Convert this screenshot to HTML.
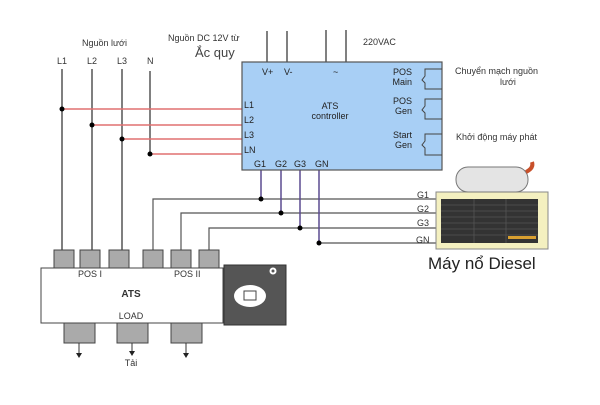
<!DOCTYPE html>
<html><head><meta charset="utf-8"><style>
html,body{margin:0;padding:0;background:#fff;}
svg text{font-family:"Liberation Sans","DejaVu Sans",sans-serif;}
</style></head><body>
<svg width="600" height="400" viewBox="0 0 600 400" xmlns="http://www.w3.org/2000/svg">
<rect width="600" height="400" fill="#fff"/>
<!-- mains lines -->
<g stroke="#555" stroke-width="1.5">
<line x1="62" y1="69" x2="62" y2="252"/>
<line x1="92" y1="69" x2="92" y2="252"/>
<line x1="122" y1="69" x2="122" y2="252"/>
<line x1="150" y1="71" x2="150" y2="154"/>
</g>
<g stroke="#e07070" stroke-width="1.5">
<line x1="62" y1="109" x2="242" y2="109"/>
<line x1="92" y1="125" x2="242" y2="125"/>
<line x1="122" y1="139" x2="242" y2="139"/>
<line x1="150" y1="154" x2="242" y2="154"/>
</g>
<g fill="#000"><circle cx="62" cy="109" r="2.5"/><circle cx="92" cy="125" r="2.5"/><circle cx="122" cy="139" r="2.5"/><circle cx="150" cy="154" r="2.5"/></g>
<!-- top supply lines -->
<g stroke="#555" stroke-width="1.5">
<line x1="267" y1="31" x2="267" y2="62"/><line x1="287" y1="31" x2="287" y2="62"/>
<line x1="326" y1="30" x2="326" y2="62"/><line x1="346" y1="30" x2="346" y2="62"/>
</g>
<!-- G lines -->
<g stroke="#555" stroke-width="1.2" fill="none">
<polyline points="153,252 153,199 438,199"/>
<polyline points="181,252 181,213 438,213"/>
<polyline points="209,252 209,228 438,228"/>
<line x1="319" y1="243" x2="438" y2="243"/>
</g>
<g stroke="#5a4a90" stroke-width="1.5">
<line x1="261" y1="170" x2="261" y2="199"/><line x1="281" y1="170" x2="281" y2="213"/>
<line x1="300" y1="170" x2="300" y2="228"/><line x1="319" y1="170" x2="319" y2="243"/>
</g>
<g fill="#000"><circle cx="261" cy="199" r="2.5"/><circle cx="281" cy="213" r="2.5"/><circle cx="300" cy="228" r="2.5"/><circle cx="319" cy="243" r="2.5"/></g>
<!-- controller -->
<rect x="242" y="62" width="200" height="108" fill="#a8cff5" stroke="#555" stroke-width="1.2"/>
<g font-size="9" fill="#222">
<text x="262" y="75">V+</text><text x="284" y="75">V-</text><text x="333" y="75">~</text>
<text x="244" y="108">L1</text><text x="244" y="123">L2</text><text x="244" y="138">L3</text><text x="244" y="153">LN</text>
<text x="254" y="167">G1</text><text x="275" y="167">G2</text><text x="294" y="167">G3</text><text x="315" y="167">GN</text>
<text x="330" y="109" text-anchor="middle">ATS</text><text x="330" y="119" text-anchor="middle">controller</text>
<text x="412" y="75" text-anchor="end">POS</text><text x="412" y="85" text-anchor="end">Main</text>
<text x="412" y="104" text-anchor="end">POS</text><text x="412" y="114" text-anchor="end">Gen</text>
<text x="412" y="138" text-anchor="end">Start</text><text x="412" y="148" text-anchor="end">Gen</text>
</g>
<g stroke="#444" stroke-width="1" fill="none">
<polyline points="442,69 425,69 425,76 422,80 425,83 425,89 442,89"/>
<polyline points="442,99 425,99 425,106 422,110 425,113 425,119 442,119"/>
<polyline points="442,134 425,134 425,141 422,145 425,148 425,155 442,155"/>
</g>
<!-- texts -->
<g font-size="9" fill="#333">
<text x="82" y="46">Nguồn lưới</text>
<text x="57" y="64">L1</text><text x="87" y="64">L2</text><text x="117" y="64">L3</text><text x="147" y="64">N</text>
<text x="168" y="41">Nguồn DC 12V từ</text>
<text x="363" y="45">220VAC</text>
<text x="455" y="74">Chuyển mạch nguồn</text><text x="500" y="85">lưới</text>
<text x="456" y="140">Khởi động máy phát</text>
<text x="417" y="198">G1</text><text x="417" y="212">G2</text><text x="417" y="226">G3</text><text x="416" y="243">GN</text>
</g>
<text x="195" y="57" font-size="13" fill="#444">Ắc quy</text>
<text x="428" y="269" font-size="17" fill="#222">Máy nổ Diesel</text>
<!-- generator -->
<rect x="436" y="192" width="112" height="57" fill="#f4f0c0" stroke="#888"/>
<rect x="441" y="199" width="97" height="44" fill="#333"/>
<g stroke="#555" stroke-width="0.8"><line x1="441" y1="205" x2="538" y2="205"/><line x1="441" y1="211" x2="538" y2="211"/><line x1="441" y1="217" x2="538" y2="217"/><line x1="441" y1="223" x2="538" y2="223"/><line x1="441" y1="229" x2="538" y2="229"/><line x1="441" y1="235" x2="538" y2="235"/><line x1="474" y1="199" x2="474" y2="243"/><line x1="506" y1="199" x2="506" y2="243"/></g>
<rect x="508" y="236" width="28" height="3" fill="#d9a030"/>
<rect x="456" y="167" width="72" height="25" rx="12" fill="#e4e4e4" stroke="#777"/>
<path d="M526,172 q8,-4 6,-10" stroke="#c8502a" stroke-width="4" fill="none"/>
<!-- ATS box -->
<g fill="#aaa" stroke="#444" stroke-width="1">
<rect x="54" y="250" width="20" height="18"/><rect x="80" y="250" width="20" height="18"/><rect x="109" y="250" width="20" height="18"/>
<rect x="143" y="250" width="20" height="18"/><rect x="171" y="250" width="20" height="18"/><rect x="199" y="250" width="20" height="18"/>
<rect x="64" y="323" width="31" height="20"/><rect x="117" y="323" width="31" height="20"/><rect x="171" y="323" width="31" height="20"/>
</g>
<rect x="41" y="268" width="182" height="55" fill="#fff" stroke="#444"/>
<rect x="224" y="265" width="62" height="60" fill="#555" stroke="#333"/>
<ellipse cx="250" cy="296" rx="16" ry="11" fill="#fff"/>
<rect x="244" y="291" width="12" height="9" fill="#fff" stroke="#444"/>
<circle cx="273" cy="271" r="3.5" fill="#fff"/><circle cx="273" cy="271" r="1.5" fill="#555"/>
<g font-size="9" fill="#333">
<text x="78" y="277" font-family="Liberation Serif">POS I</text>
<text x="174" y="277" font-family="Liberation Serif">POS II</text>
<text x="131" y="297" font-size="10" font-weight="bold" text-anchor="middle" font-family="Liberation Serif">ATS</text>
<text x="131" y="319" text-anchor="middle">LOAD</text>
<text x="131" y="366" text-anchor="middle">Tải</text>
</g>
<g stroke="#333" stroke-width="1"><line x1="79" y1="343" x2="79" y2="354"/><line x1="132" y1="343" x2="132" y2="352"/><line x1="186" y1="343" x2="186" y2="354"/></g>
<g fill="#222"><polygon points="76,353 82,353 79,358"/><polygon points="129,351 135,351 132,356"/><polygon points="183,353 189,353 186,358"/></g>
</svg>
</body></html>
